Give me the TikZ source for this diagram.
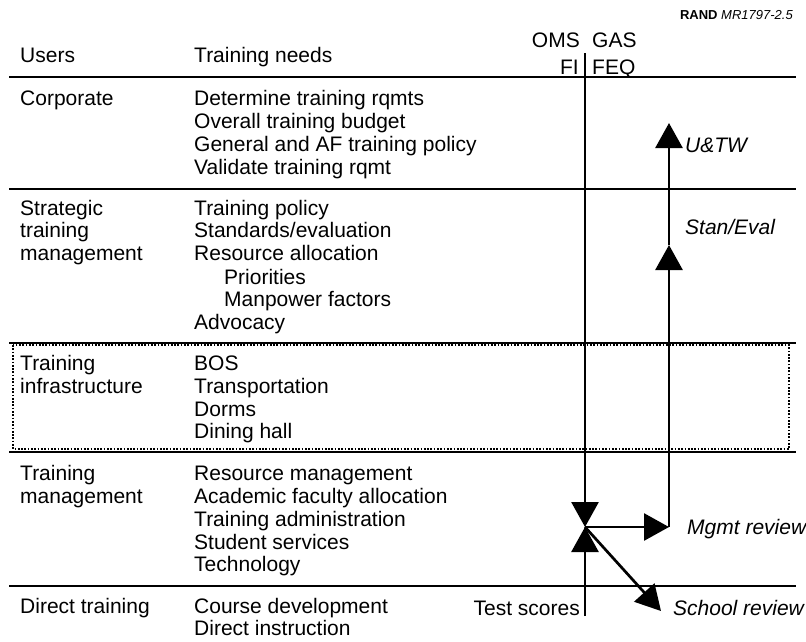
\documentclass[tikz,border=0pt]{standalone}
\usepackage{fontspec}
\setmainfont{Liberation Sans}
\usetikzlibrary{arrows.meta}
\begin{document}
\begin{tikzpicture}[x=1pt,y=-1pt,
  txt/.style={anchor=base west,inner sep=0pt,font=\fontsize{21}{23}\selectfont},
  txtr/.style={txt,anchor=base east},
  lbl/.style={txt,font=\fontsize{21}{23}\selectfont\itshape},
  rule/.style={line width=1.7pt},
  flow/.style={line width=2.7pt,-{Triangle[length=25pt,width=27pt]}},
  dotbox/.style={line width=1.7pt,dash pattern=on 1.7pt off 1.6pt}]
\useasboundingbox (0,0) rectangle (806,641);

% title
\node[anchor=base east,inner sep=0pt,font=\fontsize{13}{15}\selectfont] (rand) at (793,19) {\textbf{RAND} \textit{MR1797-2.5}};

% header
\node[txt] (users) at (20,62) {Users};
\node[txt] (needs) at (194,62) {Training needs};
\node[txtr] (oms) at (580,47) {OMS};
\node[txt] (gas) at (592,47) {GAS};
\node[txtr] (fi) at (579,74) {FI};
\node[txt] (feq) at (592,74) {FEQ};

% horizontal rules
\coordinate (r1l) at (9,77);   \coordinate (r1r) at (796,77);
\coordinate (r2l) at (9,189);  \coordinate (r2r) at (796,189);
\coordinate (r3l) at (9,343);  \coordinate (r3r) at (796,343);
\coordinate (r4l) at (9,452);  \coordinate (r4r) at (796,452);
\coordinate (r5l) at (9,586);  \coordinate (r5r) at (796,586);
\draw[rule] (r1l) -- (r1r);
\draw[rule] (r2l) -- (r2r);
\draw[rule] (r3l) -- (r3r);
\draw[rule] (r4l) -- (r4r);
\draw[rule] (r5l) -- (r5r);

% dotted box around infrastructure
\coordinate (bx1) at (13,345);
\coordinate (bx2) at (789,449);
\draw[dotbox] (bx1) rectangle (bx2);

% Corporate
\node[txt] (corp) at (20,105) {Corporate};
\node[txt] (c1) at (194,105) {Determine training rqmts};
\node[txt] (c2) at (194,128) {Overall training budget};
\node[txt] (c3) at (194,151) {General and AF training policy};
\node[txt] (c4) at (194,174) {Validate training rqmt};

% Strategic
\node[txt] (st1) at (20,215) {Strategic};
\node[txt] (st2) at (20,237) {training};
\node[txt] (st3) at (20,260) {management};
\node[txt] (s1) at (194,215) {Training policy};
\node[txt] (s2) at (194,237) {Standards/evaluation};
\node[txt] (s3) at (194,260) {Resource allocation};
\node[txt] (s4) at (224,284) {Priorities};
\node[txt] (s5) at (224,306) {Manpower factors};
\node[txt] (s6) at (194,329) {Advocacy};

% Infrastructure
\node[txt] (in1) at (20,370) {Training};
\node[txt] (in2) at (20,393) {infrastructure};
\node[txt] (i1) at (194,370) {BOS};
\node[txt] (i2) at (194,393) {Transportation};
\node[txt] (i3) at (194,416) {Dorms};
\node[txt] (i4) at (194,438) {Dining hall};

% Training management
\node[txt] (tm1) at (20,480) {Training};
\node[txt] (tm2) at (20,503) {management};
\node[txt] (m1) at (194,480) {Resource management};
\node[txt] (m2) at (194,503) {Academic faculty allocation};
\node[txt] (m3) at (194,526) {Training administration};
\node[txt] (m4) at (194,549) {Student services};
\node[txt] (m5) at (194,571) {Technology};

% Direct training
\node[txt] (dt) at (20,613) {Direct training};
\node[txt] (d1) at (194,613) {Course development};
\node[txt] (d2) at (194,635) {Direct instruction};

% flow
\coordinate (vtop) at (585,53);
\coordinate (J) at (585,527);
\coordinate (vbot) at (585,616);
\coordinate (K) at (669,527);
\coordinate (S) at (669,245);
\coordinate (U) at (669,123);
\coordinate (D) at (661,611);
\draw[flow] (vtop) -- (J);
\draw[flow] (vbot) -- (J);
\draw[flow] (J) -- (K);
\draw[flow] (K) -- (S);
\draw[flow] (S) -- (U);
\draw[flow] (J) -- (D);

\node[txtr] (test) at (580,615) {Test scores};
\node[lbl] (utw) at (685,152) {U\&TW};
\node[lbl] (stan) at (685,234) {Stan/Eval};
\node[lbl] (mgmt) at (687,534) {Mgmt review};
\node[lbl] (school) at (673,615) {School review};
\end{tikzpicture}
\end{document}
